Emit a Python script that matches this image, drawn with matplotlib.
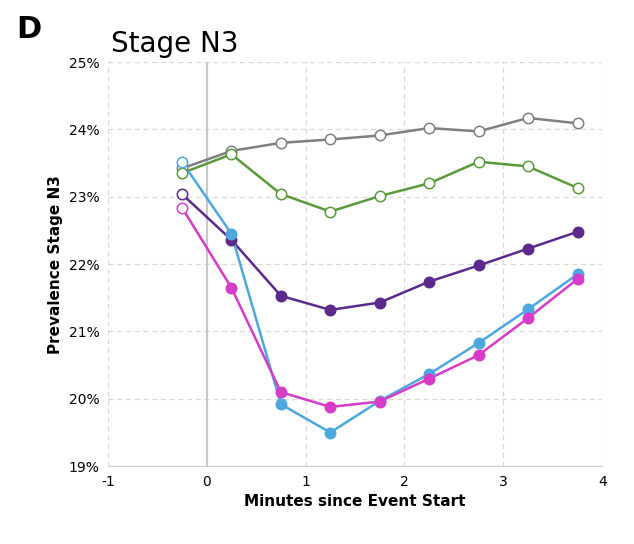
import matplotlib
matplotlib.use("Agg")
import matplotlib.pyplot as plt
from matplotlib.ticker import FuncFormatter

plt.rcParams["axes.unicode_minus"] = False

minutes = [-0.25, 0.25, 0.75, 1.25, 1.75, 2.25, 2.75, 3.25, 3.75]
gray = [23.42, 23.68, 23.80, 23.85, 23.91, 24.02, 23.97, 24.17, 24.09]
green = [23.35, 23.63, 23.04, 22.78, 23.01, 23.20, 23.52, 23.45, 23.13]
purple = [23.04, 22.36, 21.53, 21.32, 21.43, 21.74, 21.98, 22.23, 22.48]
blue = [23.52, 22.45, 19.92, 19.50, 19.97, 20.37, 20.83, 21.33, 21.85]
magenta = [22.84, 21.65, 20.10, 19.88, 19.96, 20.30, 20.65, 21.20, 21.78]

series = [
    (gray, "#808080", False),
    (green, "#5a9a3a", False),
    (purple, "#5b2a8c", True),
    (blue, "#4ea8e0", True),
    (magenta, "#d63cc8", True),
]

fig = plt.figure(figsize=(6.34, 5.44), dpi=100)
ax = fig.add_axes([0.17, 0.143, 0.78, 0.743])

ax.axvline(0, color="#c8c8c8", lw=1.5, zorder=1)
for vals, col, filled in series:
    ax.plot(minutes, vals, color=col, lw=1.8, zorder=2)
    for i, (x, y) in enumerate(zip(minutes, vals)):
        face = col if (filled and i > 0) else "white"
        ax.plot(x, y, "o", ms=7.5, mfc=face, mec=col, mew=1.1, zorder=3)

ax.set_xlim(-1, 4)
ax.set_ylim(19, 25)
ax.set_xticks([-1, 0, 1, 2, 3, 4])
ax.set_yticks(range(19, 26))
ax.yaxis.set_major_formatter(FuncFormatter(lambda v, p: f"{int(v)}%"))
ax.grid(True, ls=(0, (4, 3)), color="#d9d9d9", lw=0.9)
ax.set_axisbelow(True)
for s in ["top", "right", "left"]:
    ax.spines[s].set_visible(False)
ax.spines["bottom"].set_color("#d0d0d0")
ax.tick_params(length=0, labelsize=10, pad=6)
ax.set_xlabel("Minutes since Event Start", fontsize=11, fontweight="bold")
ax.set_ylabel("Prevalence Stage N3", fontsize=11, fontweight="bold")

fig.text(0.025, 0.93, "D", fontsize=22, fontweight="bold")
fig.text(0.175, 0.905, "Stage N3", fontsize=20)

fig.savefig("out.png", dpi=100)
